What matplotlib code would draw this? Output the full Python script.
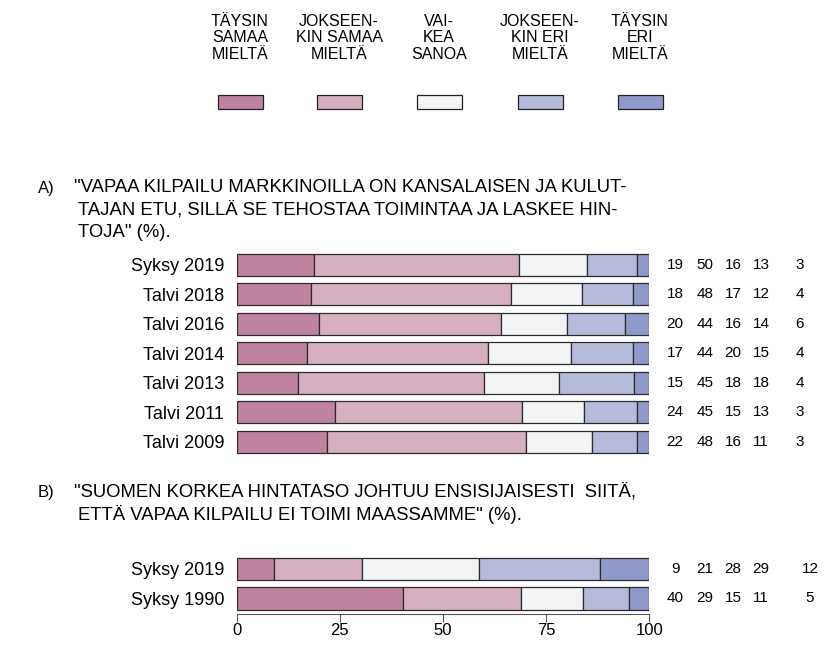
import matplotlib.pyplot as plt
import matplotlib.transforms as mtransforms
import numpy as np

plt.rcParams['font.family'] = ['Liberation Sans', 'DejaVu Sans']

# vastausvaihtoehdot ja värit
legend_labels = ['TÄYSIN\nSAMAA\nMIELTÄ', 'JOKSEEN-\nKIN SAMAA\nMIELTÄ', 'VAI-\nKEA\nSANOA',
                 'JOKSEEN-\nKIN ERI\nMIELTÄ', 'TÄYSIN\nERI\nMIELTÄ']
colors = ['#bf83a0', '#d6afc1', '#f3f4f6', '#b6bbdb', '#8f9acb']

# A) vapaa kilpailu on kansalaisen etu
a_rows = ['Syksy 2019', 'Talvi 2018', 'Talvi 2016', 'Talvi 2014', 'Talvi 2013', 'Talvi 2011', 'Talvi 2009']
a_vals = [[18.7, 49.6, 16.7, 12.1, 2.9],
          [18.1, 48.5, 17.2, 12.2, 4.0],
          [19.9, 44.1, 16.0, 14.1, 5.9],
          [17.0, 44.0, 20.1, 15.0, 3.9],
          [14.9, 45.0, 18.2, 18.2, 3.7],
          [23.9, 45.2, 15.1, 12.9, 2.9],
          [21.8, 48.2, 16.0, 11.1, 2.9]]
a_labels = [[19, 50, 16, 13, 3],
            [18, 48, 17, 12, 4],
            [20, 44, 16, 14, 6],
            [17, 44, 20, 15, 4],
            [15, 45, 18, 18, 4],
            [24, 45, 15, 13, 3],
            [22, 48, 16, 11, 3]]

# B) korkea hintataso johtuu kilpailun puutteesta
b_rows = ['Syksy 2019', 'Syksy 1990']
b_vals = [[9.1, 21.2, 28.4, 29.3, 12.0],
          [40.2, 28.6, 15.1, 11.1, 5.0]]
b_labels = [[9, 21, 28, 29, 12],
            [40, 29, 15, 11, 5]]

xticks = [0, 25, 50, 75, 100]

W, H = 824, 646


def fx(px):
    return px / W


def fy(py):
    return 1 - py / H


fig = plt.figure(figsize=(W / 100, H / 100), dpi=100)

# legenda ylös
leg_x = [240, 339, 439, 540, 640]
for lx, lab, col in zip(leg_x, legend_labels, colors):
    fig.text(fx(lx), fy(38), lab, ha='center', va='center', fontsize=11.5,
             linespacing=1.1)
    fig.add_artist(plt.Rectangle((fx(lx - 22), fy(109)), 45 / W, 14 / H,
                                 facecolor=col, edgecolor='#222222', lw=0.9,
                                 transform=fig.transFigure))


def draw_block(ax, rows, vals, labels, num_x):
    vals = np.array(vals)
    left = np.zeros(len(rows))
    y = np.arange(len(rows))
    for j in range(vals.shape[1]):
        ax.barh(y, vals[:, j], left=left, height=0.76, color=colors[j],
                edgecolor='#2b2b2b', linewidth=0.9)
        left += vals[:, j]
    ax.set_xlim(0, 100)
    ax.set_yticks(y)
    ax.set_yticklabels(rows, fontsize=13)
    ax.tick_params(axis='y', length=0, pad=9)
    for s in ['top', 'right', 'left']:
        ax.spines[s].set_visible(False)
    trans = mtransforms.blended_transform_factory(fig.transFigure, ax.transData)
    for i in range(len(rows)):
        for k in range(5):
            ax.text(fx(num_x[k]), i, str(labels[i][k]), transform=trans,
                    ha='center', va='center', fontsize=11, clip_on=False)


ax_a = fig.add_axes([fx(236.7), fy(456.5), 412.6 / W, 206.5 / H])
draw_block(ax_a, a_rows, a_vals, a_labels, [675, 705, 733, 761, 800])
ax_a.set_ylim(6.5, -0.5)
ax_a.spines['bottom'].set_visible(False)
ax_a.set_xticks([])

ax_b = fig.add_axes([fx(236.7), fy(613.5), 412.6 / W, 59.5 / H])
draw_block(ax_b, b_rows, b_vals, b_labels, [675, 705, 733, 761, 810])
ax_b.set_ylim(1.515, -0.5)
ax_b.spines['bottom'].set_bounds(0, 100)
ax_b.spines['bottom'].set_color('#555555')
ax_b.set_xticks(xticks)
ax_b.tick_params(axis='x', length=6, color='#555555', labelsize=12, pad=1)

# otsikot
title_a = ['"VAPAA KILPAILU MARKKINOILLA ON KANSALAISEN JA KULUT-',
           'TAJAN ETU, SILLÄ SE TEHOSTAA TOIMINTAA JA LASKEE HIN-',
           'TOJA" (%).']
title_b = ['"SUOMEN KORKEA HINTATASO JOHTUU ENSISIJAISESTI  SIITÄ,',
           'ETTÄ VAPAA KILPAILU EI TOIMI MAASSAMME" (%).']

fig.text(fx(38), fy(188), 'A)', ha='left', va='center', fontsize=12)
for i, line in enumerate(title_a):
    x0 = 74 if i == 0 else 78
    fig.text(fx(x0), fy(187 + 23 * i), line, ha='left', va='center', fontsize=13.3)

fig.text(fx(38), fy(493), 'B)', ha='left', va='center', fontsize=12)
for i, line in enumerate(title_b):
    x0 = 74 if i == 0 else 78
    fig.text(fx(x0), fy(492 + 23 * i), line, ha='left', va='center', fontsize=13.3)

fig.savefig('out.png', dpi=100)
